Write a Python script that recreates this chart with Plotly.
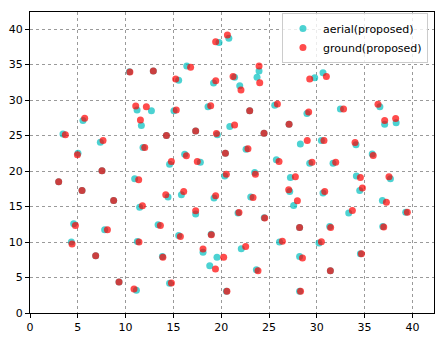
import plotly.graph_objects as go

aerial_x = [10.40, 11.20, 12.70, 5.54, 11.65, 12.90, 16.40, 15.55, 19.77, 20.80,
            19.20, 21.40, 21.94, 23.96, 23.75, 15.06, 18.62, 22.98, 25.60, 29.78,
            30.65, 28.97, 32.47, 36.60, 37.10, 38.30, 27.10, 28.28, 30.48, 34.10,
            35.80, 25.77, 29.26, 31.70, 27.24, 34.14, 37.70, 27.17, 30.65, 34.49,
            27.58, 36.86, 33.34, 39.30, 28.20, 31.35, 36.90, 26.10, 30.23, 28.20,
            34.56, 31.42, 28.20, 13.40, 15.55, 18.95, 24.50, 11.23, 18.10, 19.56,
            22.10, 13.85, 18.80, 23.68, 14.60, 20.55, 4.57, 7.81, 4.33, 6.87,
            9.31, 11.13, 3.45, 7.36, 5.02, 7.53, 3.00, 10.95, 5.44, 8.75,
            11.47, 11.82, 14.27, 17.33, 19.60, 20.90, 24.48, 16.18, 17.82, 14.60,
            20.44, 22.60, 20.37, 23.50, 14.44, 15.84, 19.25, 23.09, 17.33, 21.76]
aerial_y = [34.00, 28.60, 28.50, 27.10, 26.40, 34.10, 34.80, 32.80, 38.10, 38.70,
            32.40, 33.20, 32.00, 34.10, 33.20, 28.50, 29.07, 28.50, 29.27, 33.15,
            33.86, 28.10, 28.75, 29.07, 26.60, 26.80, 26.60, 23.80, 24.30, 23.70,
            22.40, 21.57, 21.10, 21.10, 19.10, 19.30, 18.90, 17.10, 16.90, 17.26,
            15.15, 15.85, 14.08, 14.20, 12.05, 12.20, 12.20, 10.00, 9.86, 7.97,
            8.35, 5.96, 3.05, 12.43, 10.93, 11.10, 13.40, 10.08, 8.54, 7.84,
            9.06, 7.97, 6.67, 6.10, 4.20, 3.05, 12.57, 11.73, 10.00, 8.07,
            4.37, 3.19, 25.20, 24.06, 22.50, 20.03, 18.50, 18.90, 17.26, 15.85,
            14.90, 23.30, 25.00, 25.65, 25.10, 26.26, 25.33, 22.37, 21.25, 20.97,
            22.50, 23.08, 19.30, 19.80, 16.33, 16.65, 16.19, 16.33, 13.94, 14.08]

ground_x = [10.45, 11.06, 12.17, 5.72, 11.55, 12.90, 16.80, 15.24, 19.42, 20.65,
            19.43, 21.24, 22.07, 23.96, 24.03, 15.30, 18.90, 22.98, 25.88, 29.26,
            31.00, 29.15, 32.80, 36.40, 37.10, 38.25, 27.10, 29.00, 30.75, 34.00,
            35.90, 26.05, 29.50, 31.98, 27.76, 34.56, 37.55, 27.06, 30.83, 34.77,
            27.97, 37.28, 33.72, 39.47, 28.20, 31.45, 37.00, 26.40, 30.48, 28.50,
            34.67, 31.42, 28.30, 13.64, 15.73, 18.97, 24.55, 11.40, 18.10, 20.26,
            22.56, 13.90, 19.40, 23.85, 14.79, 20.60, 4.75, 8.10, 4.40, 6.87,
            9.31, 10.88, 3.70, 7.64, 4.96, 7.53, 3.00, 11.37, 5.44, 8.75,
            11.76, 12.00, 14.27, 17.33, 19.50, 21.40, 24.48, 16.36, 17.50, 14.79,
            20.44, 22.80, 20.54, 23.58, 14.20, 16.08, 19.42, 23.33, 17.33, 21.86]
ground_y = [33.95, 29.17, 29.07, 27.44, 27.20, 34.10, 34.60, 32.97, 38.20, 39.16,
            32.70, 33.30, 31.40, 34.80, 32.45, 28.60, 29.20, 28.50, 29.45, 32.97,
            33.30, 28.30, 28.75, 29.40, 27.10, 27.40, 26.60, 24.30, 24.30, 24.00,
            22.20, 21.34, 21.25, 21.25, 19.20, 19.10, 19.20, 17.35, 17.10, 17.60,
            15.80, 15.60, 14.45, 14.20, 12.05, 12.05, 12.10, 10.10, 10.04, 7.75,
            8.35, 5.96, 3.05, 12.34, 10.79, 11.03, 13.37, 10.00, 9.00, 7.84,
            9.38, 7.84, 6.20, 5.96, 4.23, 3.05, 12.34, 11.73, 9.72, 8.07,
            4.37, 3.39, 25.10, 24.30, 22.28, 20.03, 18.50, 18.76, 17.26, 15.85,
            15.10, 23.30, 25.00, 25.65, 25.30, 26.50, 25.33, 22.14, 21.34, 21.34,
            22.50, 23.12, 19.56, 19.56, 16.65, 17.10, 16.50, 16.27, 14.40, 14.16]

series_names = ["aerial(proposed)", "ground(proposed)"]
x_ticks = [0, 5, 10, 15, 20, 25, 30, 35, 40]
y_ticks = [0, 5, 10, 15, 20, 25, 30, 35, 40]

fig = go.Figure()
fig.add_trace(go.Scatter(x=aerial_x, y=aerial_y, mode="markers", name=series_names[0],
                         marker=dict(color="#00bfbf", size=7, opacity=0.7, line=dict(width=0))))
fig.add_trace(go.Scatter(x=ground_x, y=ground_y, mode="markers", name=series_names[1],
                         marker=dict(color="#ff0000", size=7, opacity=0.7, line=dict(width=0))))

axis_common = dict(
    showline=True, linecolor="black", linewidth=1, mirror=True,
    ticks="outside", ticklen=4, tickcolor="black", tickwidth=1,
    showgrid=True, gridcolor="#9a9a9a", griddash="dot", gridwidth=1,
    zeroline=False, automargin=False,
    tickfont=dict(family="DejaVu Sans", size=11, color="black"),
)
fig.update_xaxes(range=[0, 42.26], tickvals=x_ticks, **axis_common)
fig.update_yaxes(range=[0, 42.4], tickvals=y_ticks, **axis_common)

fig.update_layout(
    width=447, height=341,
    margin=dict(l=30, r=13, t=12, b=28),
    paper_bgcolor="white", plot_bgcolor="white",
    font=dict(family="DejaVu Sans", size=11, color="black"),
    legend=dict(x=0.985, y=0.997, xanchor="right", yanchor="top",
                bgcolor="rgba(255,255,255,0.8)", bordercolor="#cccccc", borderwidth=1,
                font=dict(size=11), itemwidth=30, tracegroupgap=0),
    showlegend=True,
)

fig.write_html("out.html", config={"displayModeBar": False},
               post_script="document.body.style.margin='0';document.body.style.overflow='hidden';")
